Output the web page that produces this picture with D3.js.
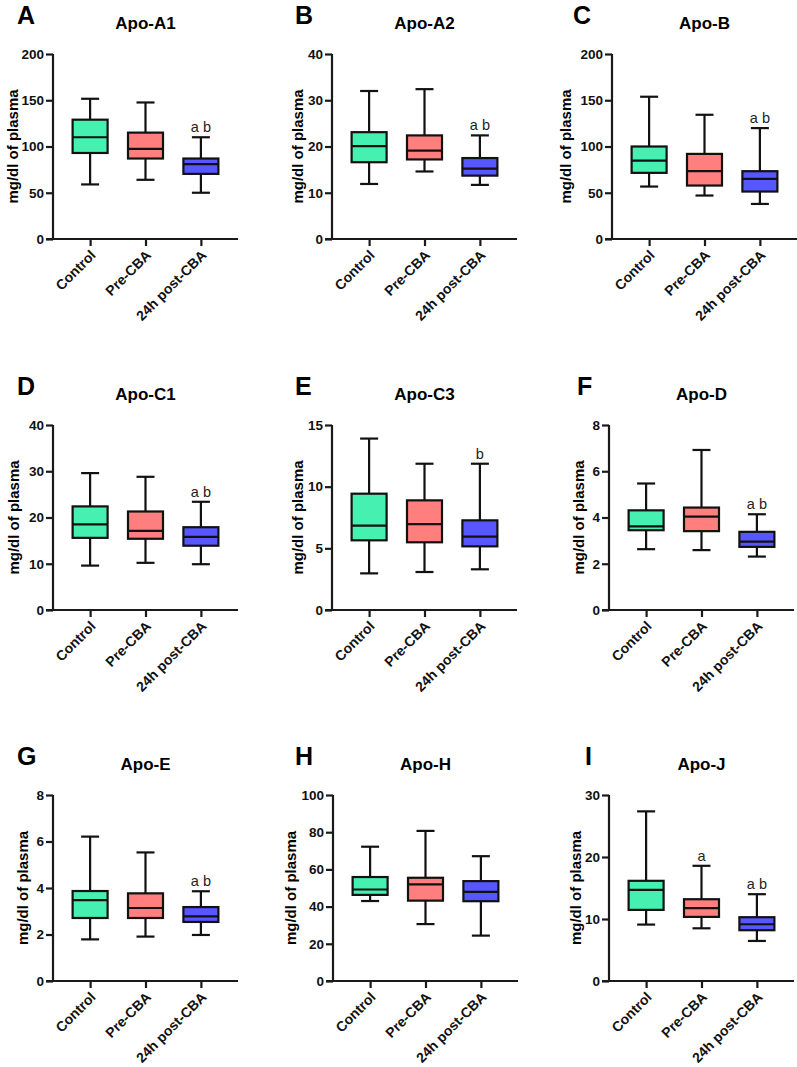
<!DOCTYPE html>
<html><head><meta charset="utf-8">
<script src="https://cdn.jsdelivr.net/npm/d3@7"></script>
<style>
body{margin:0;background:#fff;}
svg{display:block;font-family:"Liberation Sans",Arial,sans-serif;}
</style></head>
<body>
<svg id="chart" width="797" height="1067"></svg>
<script>
// ---------- DATA ----------
const categories = ["Control", "Pre-CBA", "24h post-CBA"];
const groupColors = ["#45F0B0", "#FF7F7F", "#5757FF"];
const panelLetters = ["A", "B", "C", "D", "E", "F", "G", "H", "I"];
const panelTitles = ["Apo-A1", "Apo-A2", "Apo-B", "Apo-C1", "Apo-C3", "Apo-D", "Apo-E", "Apo-H", "Apo-J"];
const yMaxValues = [200, 40, 200, 40, 15, 8, 8, 100, 30];
const yTickSteps = [50, 10, 50, 10, 5, 2, 2, 20, 10];
const yLabel = "mg/dl of plasma";

// [min, Q1, median, Q3, max] per group
const apoA1 = [[59, 93, 110, 129, 151.6], [64, 87, 97.5, 115, 147.6], [50, 70.4, 81, 87, 110]];
const apoA2 = [[11.9, 16.6, 20.1, 23.1, 32], [14.6, 17.2, 19.1, 22.4, 32.4], [11.7, 13.7, 15.2, 17.5, 22.4]];
const apoB  = [[56.7, 71.5, 84.8, 100, 153.8], [47, 57.8, 73.3, 92, 134.3], [37.9, 51.3, 65, 73.3, 119.9]];
const apoC1 = [[9.6, 15.6, 18.5, 22.4, 29.6], [10.2, 15.4, 17.1, 21.3, 28.8], [9.9, 13.9, 15.8, 17.9, 23.4]];
const apoC3 = [[2.97, 5.65, 6.84, 9.43, 13.9], [3.08, 5.49, 6.97, 8.89, 11.86], [3.3, 5.16, 5.95, 7.27, 11.86]];
const apoD  = [[2.63, 3.45, 3.62, 4.31, 5.47], [2.59, 3.41, 4.04, 4.43, 6.92], [2.31, 2.73, 2.96, 3.38, 4.14]];
const apoE  = [[1.79, 2.71, 3.48, 3.87, 6.21], [1.91, 2.71, 3.14, 3.77, 5.53], [1.98, 2.54, 2.78, 3.18, 3.86]];
const apoH  = [[43.0, 46.3, 49.2, 55.9, 72.2], [30.6, 43.2, 51.9, 55.5, 80.7], [24.4, 42.9, 47.9, 53.7, 67.1]];
const apoJ  = [[9.1, 11.47, 14.7, 16.16, 27.36], [8.5, 10.34, 11.74, 13.19, 18.58], [6.46, 8.19, 9.15, 10.29, 14.0]];
const panelStats = [apoA1, apoA2, apoB, apoC1, apoC3, apoD, apoE, apoH, apoJ];

// significance letters per group
const annotations = [
  ["", "", "a b"], ["", "", "a b"], ["", "", "a b"],
  ["", "", "a b"], ["", "", "b"], ["", "", "a b"],
  ["", "", "a b"], ["", "", ""], ["", "a", "a b"]
];

// ---------- LAYOUT ----------
const axisXs = [53, 332, 612, 53, 332, 609, 53, 333, 609];
const rowTops = [54, 425, 795];
const rowBottoms = [239, 610, 981];
const axisWidth = 185;
const yLabelXs = [12, 297, 565, 13, 297, 578, 22, 290, 575];
const letterXs = [17, 295, 573, 17, 295, 577, 17, 295, 585];

const svg = d3.select("#chart");

panelStats.forEach((stats, i) => {
  const row = Math.floor(i / 3);
  const x0 = axisXs[i], x1 = x0 + axisWidth;
  const top = rowTops[row], bottom = rowBottoms[row];
  const g = svg.append("g");

  const x = d3.scalePoint().domain(categories).range([x0, x1]).padding(0.67);
  const y = d3.scaleLinear().domain([0, yMaxValues[i]]).range([bottom, top]);
  const ticks = d3.range(0, yMaxValues[i] + 1e-9, yTickSteps[i]);

  // panel letter
  g.append("text").attr("x", letterXs[i]).attr("y", top - 30)
    .attr("font-size", 25).attr("font-weight", "bold").attr("fill", "#000")
    .text(panelLetters[i]);
  // title
  g.append("text").attr("x", (x0 + x1) / 2).attr("y", top - 25)
    .attr("text-anchor", "middle").attr("font-size", 17).attr("font-weight", "bold")
    .attr("fill", "#000").text(panelTitles[i]);
  // y label
  g.append("text")
    .attr("transform", `translate(${yLabelXs[i]},${(top + bottom) / 2}) rotate(-90)`)
    .attr("text-anchor", "middle").attr("dominant-baseline", "central")
    .attr("font-size", 15).attr("font-weight", "bold").attr("fill", "#000")
    .text(yLabel);

  // y axis
  const yAxis = g.append("g").attr("transform", `translate(${x0},0)`)
    .call(d3.axisLeft(y).tickValues(ticks).tickSize(7).tickPadding(2).tickFormat(d3.format("d")));
  // x axis
  const xAxis = g.append("g").attr("transform", `translate(0,${bottom})`)
    .call(d3.axisBottom(x).tickSize(7).tickSizeOuter(0));
  [yAxis, xAxis].forEach(a => {
    a.select(".domain").attr("stroke", "#1a1a1a").attr("stroke-width", 2.2);
    a.selectAll(".tick line").attr("stroke", "#1a1a1a").attr("stroke-width", 2.2);
  });
  yAxis.select(".domain").attr("d", `M0,${bottom}V${top}`);
  xAxis.select(".domain").attr("d", `M${x0 - 7},0H${x1}`);
  yAxis.selectAll(".tick text").attr("font-size", 13.5).attr("font-weight", "bold")
    .attr("fill", "#111").attr("font-family", "Liberation Sans, Arial, sans-serif");
  xAxis.selectAll(".tick text")
    .attr("font-size", 14).attr("font-weight", "bold").attr("fill", "#111")
    .attr("font-family", "Liberation Sans, Arial, sans-serif")
    .attr("text-anchor", "end").attr("dy", null).attr("y", 0)
    .attr("transform", "translate(6,17) rotate(-45)");

  // boxes
  const boxW = 35, capW = 18;
  stats.forEach((s, j) => {
    const cx = x(categories[j]);
    const [mn, q1, md, q3, mx] = s;
    const bg = g.append("g");
    const line = (xa, ya, xb, yb) => bg.append("line")
      .attr("x1", xa).attr("y1", ya).attr("x2", xb).attr("y2", yb)
      .attr("stroke", "#111").attr("stroke-width", 2.2);
    line(cx, y(mx), cx, y(q3));
    line(cx, y(q1), cx, y(mn));
    line(cx - capW / 2, y(mx), cx + capW / 2, y(mx));
    line(cx - capW / 2, y(mn), cx + capW / 2, y(mn));
    bg.append("rect").attr("x", cx - boxW / 2).attr("y", y(q3))
      .attr("width", boxW).attr("height", y(q1) - y(q3))
      .attr("fill", groupColors[j]).attr("stroke", "#111").attr("stroke-width", 2.2);
    line(cx - boxW / 2, y(md), cx + boxW / 2, y(md));
    if (annotations[i][j]) {
      bg.append("text").attr("x", cx).attr("y", y(mx) - 5)
        .attr("text-anchor", "middle").attr("font-size", 14.5).attr("fill", "#222")
        .text(annotations[i][j]);
    }
  });
});
</script>
</body></html>
